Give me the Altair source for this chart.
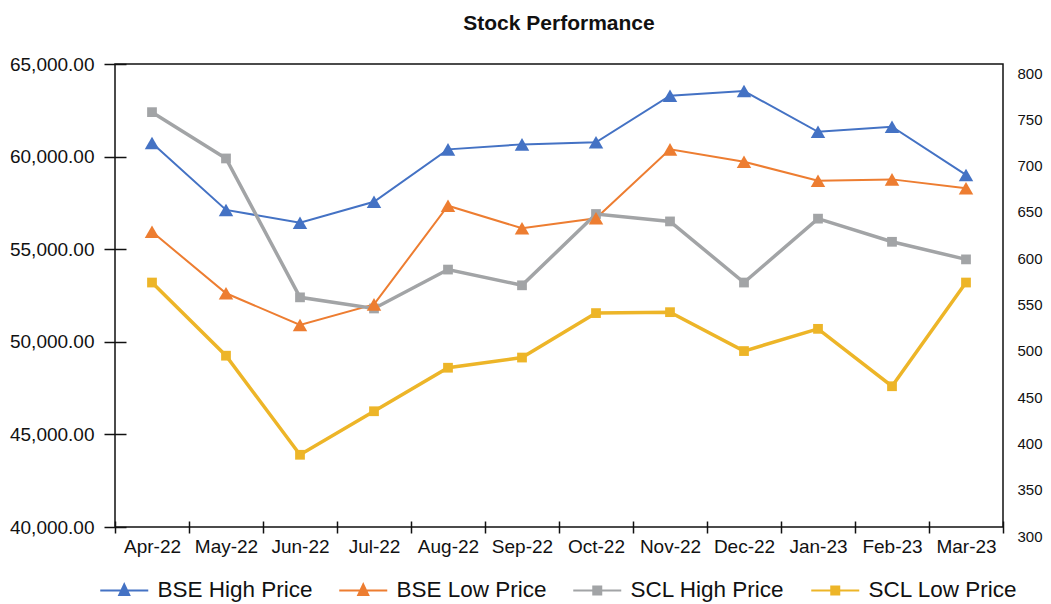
import altair as alt
import pandas as pd

months = ["Apr-22", "May-22", "Jun-22", "Jul-22", "Aug-22", "Sep-22",
          "Oct-22", "Nov-22", "Dec-22", "Jan-23", "Feb-23", "Mar-23"]
bse_high = [60730, 57120, 56430, 57560, 60390, 60660, 60770, 63290, 63540, 61340, 61610, 59010]
bse_low = [55940, 52620, 50910, 52020, 57350, 56130, 56670, 60390, 59720, 58700, 58770, 58290]
scl_high = [748, 698, 548, 536, 578, 561, 638, 630, 564, 633, 608, 589]
scl_low = [564, 485, 378, 425, 472, 483, 531, 532, 490, 514, 452, 564]

series_names = ["BSE High Price", "BSE Low Price", "SCL High Price", "SCL Low Price"]
series_colors = ["#4472C4", "#ED7D31", "#A2A4A6", "#EDB528"]
left_ticks = [40000, 45000, 50000, 55000, 60000, 65000]
right_ticks = [300, 350, 400, 450, 500, 550, 600, 650, 700, 750, 800]

legend_paths = [
    "M-1,0H3.8M1.4,-0.6L1.9,0.45L0.9,0.45Z",
    "M-1,0H3.8M1.4,-0.6L1.9,0.45L0.9,0.45Z",
    "M-1,0H3.8M1.0,-0.4H1.8V0.4H1.0Z",
    "M-1,0H3.8M1.0,-0.4H1.8V0.4H1.0Z",
]

FONT = "Liberation Sans"

x_axis = alt.Axis(orient="bottom", tickBand="extent", offset=-6, tickSize=12,
                  domain=False, labelFontSize=19, labelPadding=4, labelAngle=0,
                  title=None, tickWidth=1.5, tickColor="#111", labelColor="#111",
                  labelFont=FONT)
band = alt.Scale(type="band", paddingInner=0, paddingOuter=0)
x_enc = alt.X("month:N", sort=months, scale=band, axis=x_axis)

left_scale = alt.Scale(domain=[40000, 65000], nice=False, zero=False)
right_scale = alt.Scale(domain=[300, 800], nice=False, zero=False)

left_axis = alt.Axis(orient="left", values=left_ticks, format=",.2f",
                     labelFontSize=19, labelFont=FONT, labelColor="#111",
                     tickSize=22, offset=-11, domain=False, labelPadding=10,
                     title=None, tickWidth=1.5, tickColor="#111", grid=False)
right_axis = alt.Axis(orient="right", values=right_ticks, format="d",
                      labelFontSize=15,
                      labelFont="'Liberation Sans Narrow', 'Liberation Sans', Arial",
                      labelColor="#111", ticks=False, tickSize=0, domain=False,
                      labelPadding=14, labelOffset=9, title=None, grid=False)


def series_layers(values, color, yscale, axis, line_width, shape, size):
    df = pd.DataFrame({"month": months, "value": values})
    line = alt.Chart(df).mark_line(color=color, strokeWidth=line_width).encode(
        x=x_enc, y=alt.Y("value:Q", scale=yscale, axis=axis))
    pts = alt.Chart(df).mark_point(shape=shape, filled=True, size=size,
                                   color=color, opacity=1).encode(
        x=x_enc, y=alt.Y("value:Q", scale=yscale, axis=None))
    return line, pts


bh_line, bh_pts = series_layers(bse_high, series_colors[0], left_scale, left_axis, 2, "triangle-up", 210)
bl_line, bl_pts = series_layers(bse_low, series_colors[1], left_scale, None, 2, "triangle-up", 210)
sh_line, sh_pts = series_layers(scl_high, series_colors[2], right_scale, right_axis, 3.5, "square", 95)
sl_line, sl_pts = series_layers(scl_low, series_colors[3], right_scale, None, 3.5, "square", 95)

legend_df = pd.DataFrame({"series": series_names})
legend_def = alt.Legend(
    orient="none", legendX=-16, legendY=515, direction="horizontal", columns=4,
    title=None, symbolSize=400, symbolStrokeWidth=2, symbolOpacity=1,
    labelOffset=36, labelFontSize=22.5, labelFont=FONT, labelColor="#111",
    columnPadding=22, labelLimit=0,
)
legend_layer = alt.Chart(legend_df).mark_point(size=400, filled=True, opacity=0).encode(
    shape=alt.Shape("series:N", sort=series_names,
                    scale=alt.Scale(domain=series_names, range=legend_paths), legend=legend_def),
    fill=alt.Fill("series:N", sort=series_names,
                  scale=alt.Scale(domain=series_names, range=series_colors), legend=legend_def),
    stroke=alt.Stroke("series:N", sort=series_names,
                      scale=alt.Scale(domain=series_names, range=series_colors), legend=legend_def),
)

chart = alt.layer(
    bh_line, bl_line, sh_line, sl_line, sh_pts, sl_pts, bh_pts, bl_pts, legend_layer
).resolve_scale(
    y="independent"
).properties(
    width=888, height=463,
    title=alt.Title("Stock Performance", fontSize=21, font=FONT, fontWeight="bold",
                    offset=21, anchor="middle", color="#111"),
    autosize=alt.AutoSizeParams(type="none"),
    padding={"left": 107, "top": 56, "right": 40, "bottom": 100},
).configure_view(
    stroke="#111", strokeWidth=1.5
).configure_axis(
    grid=False
)

chart.save("out.html", embed_options={"renderer": "svg", "actions": False})
